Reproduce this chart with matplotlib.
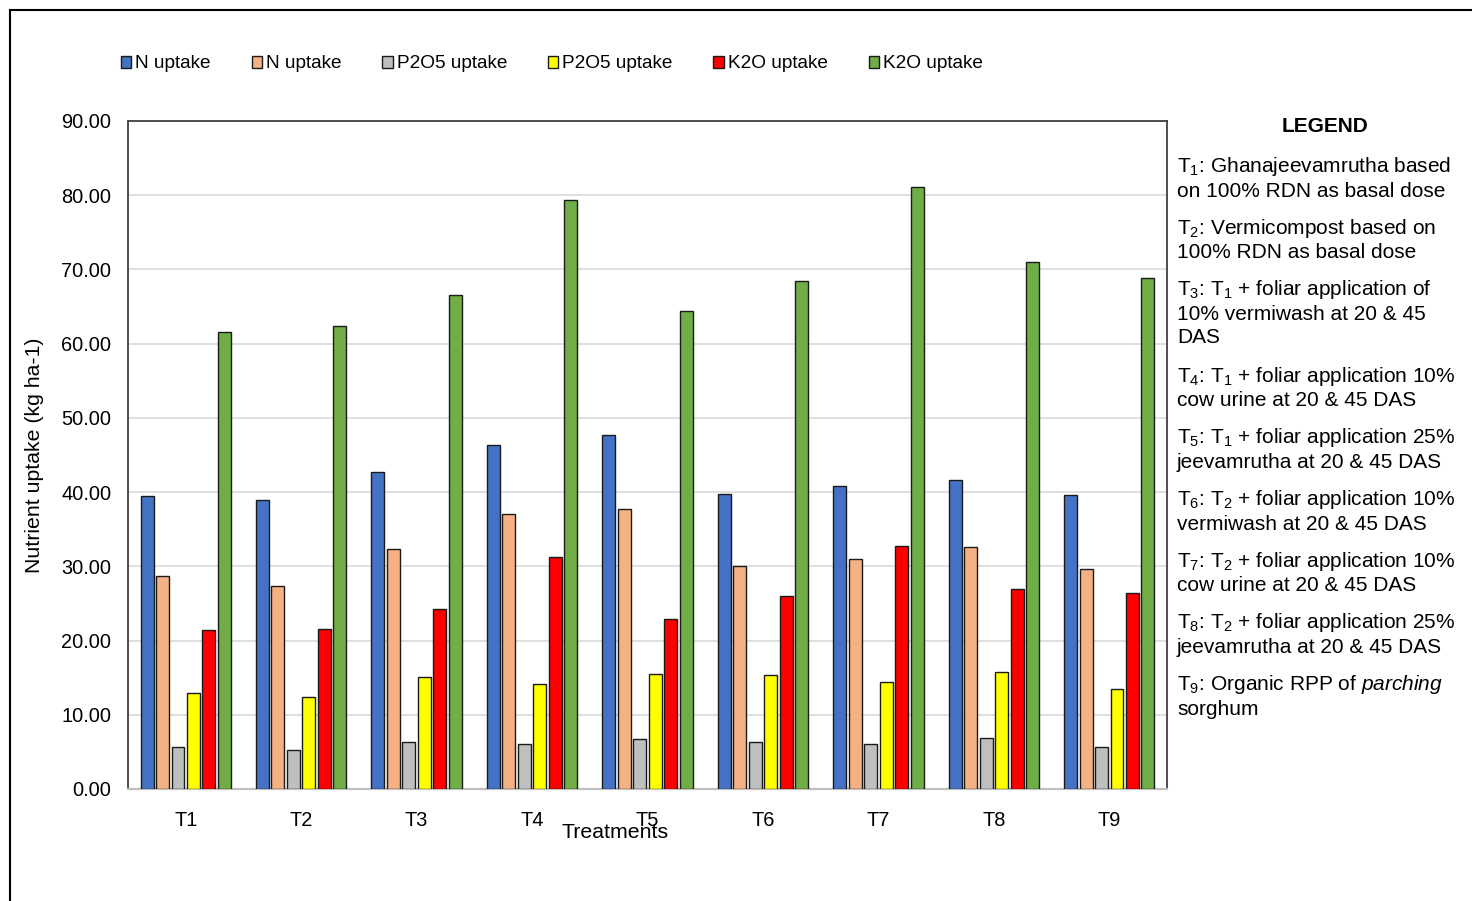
import numpy as np
import matplotlib.pyplot as plt
from matplotlib.lines import Line2D

plt.rcParams['font.family'] = ['Liberation Sans', 'DejaVu Sans']
plt.rcParams['mathtext.fontset'] = 'custom'
plt.rcParams['mathtext.rm'] = 'Liberation Sans'
plt.rcParams['mathtext.it'] = 'Liberation Sans:italic'

treatments = ['T1', 'T2', 'T3', 'T4', 'T5', 'T6', 'T7', 'T8', 'T9']
series_names = ['N uptake', 'N uptake', 'P2O5 uptake', 'P2O5 uptake', 'K2O uptake', 'K2O uptake']
n_uptake_a = [39.5, 39.0, 42.7, 46.3, 47.7, 39.7, 40.8, 41.6, 39.6]
n_uptake_b = [28.7, 27.4, 32.4, 37.0, 37.7, 30.0, 31.0, 32.6, 29.6]
p_uptake_a = [5.6, 5.3, 6.3, 6.1, 6.7, 6.3, 6.1, 6.9, 5.6]
p_uptake_b = [12.9, 12.4, 15.1, 14.1, 15.5, 15.4, 14.4, 15.8, 13.5]
k_uptake_a = [21.4, 21.6, 24.3, 31.3, 22.9, 26.0, 32.8, 27.0, 26.4]
k_uptake_b = [61.6, 62.4, 66.6, 79.4, 64.4, 68.4, 81.1, 71.0, 68.9]
colors = ['#4472C4', '#F4B183', '#BFBFBF', '#FFFF00', '#FF0000', '#70AD47']

legend_items = [
    'T$_1$: Ghanajeevamrutha based\non 100% RDN as basal dose',
    'T$_2$: Vermicompost based on\n100% RDN as basal dose',
    'T$_3$: T$_1$ + foliar application of\n10% vermiwash at 20 & 45\nDAS',
    'T$_4$: T$_1$ + foliar application 10%\ncow urine at 20 & 45 DAS',
    'T$_5$: T$_1$ + foliar application 25%\njeevamrutha at 20 & 45 DAS',
    'T$_6$: T$_2$ + foliar application 10%\nvermiwash at 20 & 45 DAS',
    'T$_7$: T$_2$ + foliar application 10%\ncow urine at 20 & 45 DAS',
    'T$_8$: T$_2$ + foliar application 25%\njeevamrutha at 20 & 45 DAS',
    'T$_9$: Organic RPP of $\\it{parching}$\nsorghum',
]

W, H = 1472, 901
fig = plt.figure(figsize=(W / 100, H / 100), dpi=100)
ax = fig.add_axes([128 / W, 1 - 789 / H, (1167 - 128) / W, (789 - 121) / H])

data = [n_uptake_a, n_uptake_b, p_uptake_a, p_uptake_b, k_uptake_a, k_uptake_b]
x = np.arange(len(treatments))
step = 0.134
width = 0.112
handles = []
for i, (vals, c) in enumerate(zip(data, colors)):
    b = ax.bar(x + (i - 2.5) * step, vals, width, color=c, edgecolor='#1a1a1a',
               linewidth=1.0, zorder=3, label=series_names[i])
    handles.append(b)

ax.set_xlim(-0.5, len(treatments) - 0.5)
ax.set_ylim(0, 90)
ax.set_yticks(np.arange(0, 91, 10))
ax.set_yticklabels([f'{v:.2f}' for v in np.arange(0, 91, 10)], fontsize=14.4)
ax.set_xticks(x)
ax.set_xticklabels(treatments, fontsize=14.4)
ax.tick_params(length=0)
ax.tick_params(axis='x', pad=16)
ax.tick_params(axis='y', pad=12)
ax.grid(axis='y', color='#d9d9d9', linewidth=1.2, zorder=0)
for s in ['left', 'top', 'right']:
    ax.spines[s].set_color('#404040')
    ax.spines[s].set_linewidth(1.3)
ax.spines['bottom'].set_color('#bfbfbf')
ax.spines['bottom'].set_linewidth(1.6)

fig.text(35 / W, 1 - 455 / H, 'Nutrient uptake (kg ha-1)', rotation=90,
         ha='center', va='center', fontsize=15.3)
fig.text(615 / W, 1 - 832 / H, 'Treatments', ha='center', va='center', fontsize=15.3)

fig.legend(handles=handles, loc='center left', bbox_to_anchor=(121 / W, 1 - 64 / H),
           ncol=6, frameon=False, fontsize=13.7, handlelength=0.55, handleheight=0.55,
           handletextpad=0.2, columnspacing=2.15, borderaxespad=0, borderpad=0)

# right-hand treatment legend
fig.text(1325 / W, 1 - 127 / H, 'LEGEND', ha='center', va='center',
         fontsize=15, fontweight='bold')
y = 167
line_h = 24.4
for item in legend_items:
    n = item.count('\n') + 1
    fig.text(1177 / W, 1 - (y - 12) / H, item, ha='left', va='top',
             fontsize=15, linespacing=1.24)
    y += n * line_h + 12.9

# outer chart border
fig.add_artist(Line2D([10 / W, 1], [1 - 10 / H, 1 - 10 / H], color='black', linewidth=1.5))
fig.add_artist(Line2D([10 / W, 10 / W], [0, 1 - 10 / H], color='black', linewidth=1.5))

fig.savefig('out.png', dpi=100)
